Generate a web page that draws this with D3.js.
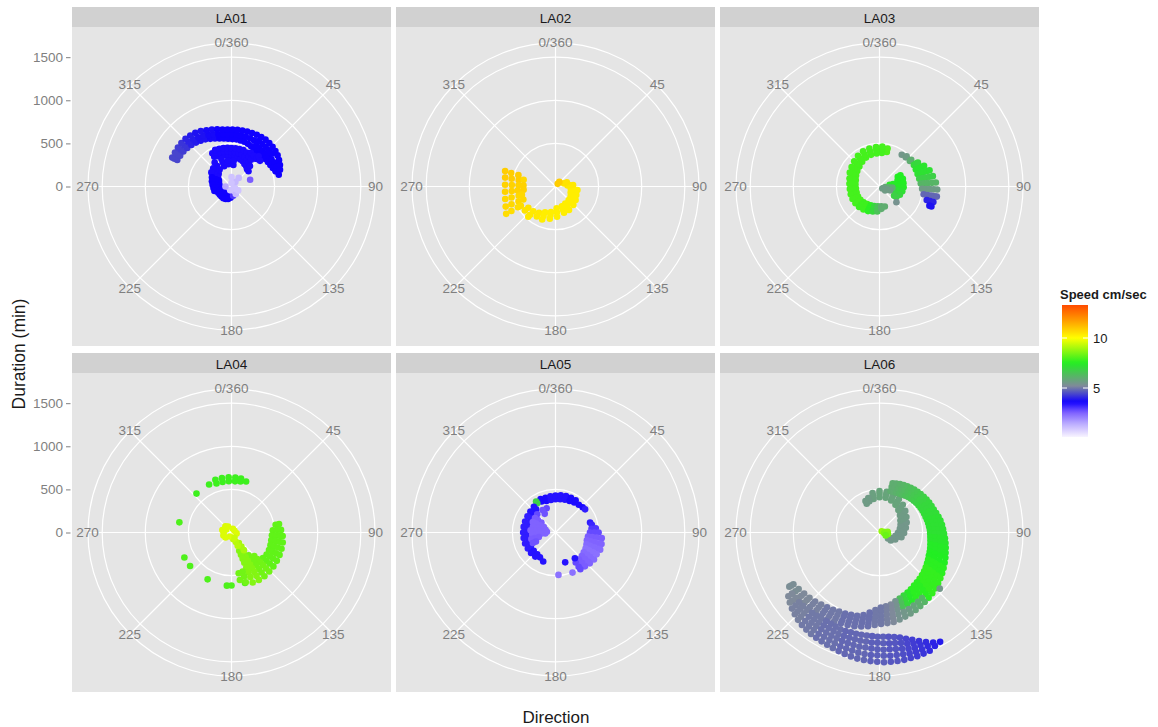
<!DOCTYPE html>
<html>
<head>
<meta charset="utf-8">
<title>Direction vs duration</title>
<script src="https://cdn.jsdelivr.net/npm/d3@7"></script>
<style>
  body { margin: 0; background: #fff; }
  text { font-family: "Liberation Sans", Arial, sans-serif; }
</style>
</head>
<body>
<svg id="chart"></svg>
<script>
const panelNames = ["LA01", "LA02", "LA03", "LA04", "LA05", "LA06"]
const thetaBreaks = [0, 45, 90, 135, 180, 225, 270, 315]
const thetaLabels = ["0/360", "45", "90", "135", "180", "225", "270", "315"]
const rBreaks = [0, 500, 1000, 1500]
const legendBreaks = [5, 10]
const speedStops = [0.1, 1.5, 2.6, 3.6, 5.2, 7.5, 10, 11.8, 13.3]
const speedColours = ["#f8f4ff", "#b8a8ff", "#7a5cff", "#1000ff", "#7f8a9a", "#22ee22", "#ffff00", "#ff9a00", "#ff4a00"]

// each entry: [direction, [durations...], speed]
const la01 = [
  [296, [700, 735, 765], 4.4], [301, [695, 730, 765], 4.4], [306, [690, 730, 768], 4.3],
  [311, [680, 725, 770], 4.2], [316, [670, 720, 768], 4.0], [321, [655, 705, 760], 3.9],
  [326, [640, 690, 750], 3.8], [331, [625, 675, 735], 3.8], [336, [605, 655, 715], 3.7],
  [341, [590, 640, 700], 3.7], [346, [575, 625, 685], 3.6], [351, [565, 615, 670], 3.6],
  [356, [555, 605, 662], 3.6], [1, [550, 605, 660], 3.6], [6, [550, 605, 660], 3.6],
  [11, [545, 600, 660], 3.6], [16, [540, 600, 662], 3.6], [21, [530, 600, 665], 3.6],
  [26, [520, 595, 668], 3.6], [31, [505, 560, 615, 670], 3.6], [36, [495, 550, 610, 672], 3.6],
  [41, [495, 550, 605, 668], 3.6], [46, [500, 550, 605, 662], 3.6], [51, [505, 555, 605, 655], 3.6],
  [56, [510, 560, 645], 3.6], [61, [515, 570, 630], 3.6], [66, [525, 575, 615], 3.6],
  [71, [540, 595], 3.6], [76, [565], 3.6],
  [330, [400, 445], 3.5], [336, [385, 430, 465], 3.5], [342, [375, 420, 460], 3.5],
  [348, [370, 415, 455], 3.5], [354, [360, 405, 450], 3.5], [0, [350, 400, 445], 3.5],
  [6, [345, 400, 445], 3.5], [12, [340, 395, 445], 3.5], [18, [330, 390, 445], 3.5],
  [24, [320, 375, 430], 3.5], [30, [300, 350, 400, 450], 3.5], [36, [290, 340, 385, 440], 3.5],
  [42, [270, 320, 430, 470], 3.5], [48, [265, 445], 3.5],
  [340, [250, 300, 340], 3.5], [352, [260, 305], 3.5], [5, [250, 300], 3.5],
  [325, [240, 290, 340], 3.5], [315, [210, 260, 300], 3.5], [305, [190, 240, 285], 3.5],
  [295, [160, 200, 250], 3.6], [285, [150, 195, 235], 3.6], [275, [140, 185, 220], 3.6],
  [265, [130, 180, 210], 3.6], [255, [120, 175, 205], 3.6], [245, [115, 170], 3.6],
  [235, [110, 165], 3.6], [225, [105, 165], 3.6], [215, [100, 165], 3.6],
  [205, [95, 160], 3.6], [195, [90, 150], 3.6], [185, [80, 130], 3.6],
  [170, [60, 110], 3.0], [150, [60, 100], 1.2], [120, [50, 90], 1.0], [90, [30], 1.0],
  [40, [70, 130], 1.2], [0, [40, 110], 1.0], [200, [45], 1.0], [270, [70], 1.5],
  [70, [230], 2.6]
]

const la02 = [
  [287, [450, 537, 611], 10.9], [280, [433, 516, 593], 10.9], [282, [378], 10.7],
  [272, [372, 429, 507, 585], 10.8], [264, [372, 440, 510, 588], 10.8],
  [256, [402, 440, 525, 601], 10.7], [248, [402, 463, 551, 623], 10.7],
  [241, [460, 498, 585, 654], 10.6],
  [232, [400, 450], 10.5], [222, [386, 440, 472], 10.4], [212, [360, 410], 10.4],
  [202, [323, 370, 413], 10.3], [190, [300, 337, 380], 10.3], [177, [254, 300, 351], 10.3],
  [162, [240, 285, 320], 10.3], [150, [227, 270, 314], 10.3], [136, [220, 260, 298], 10.3],
  [124, [211, 245, 281], 10.3], [112, [190, 230, 260], 10.3], [99, [180, 220, 257], 10.3],
  [85, [140, 175, 205], 10.4], [70, [105, 140], 10.5], [40, [40, 70], 10.9]
]

const la03 = [
  [12, [410, 450], 8.0], [4, [390, 430, 465], 7.9], [355, [385, 425, 460], 7.9],
  [345, [380, 420, 455], 7.9], [335, [370, 410, 450], 7.9], [325, [350, 395, 435], 7.9],
  [315, [330, 375, 415], 7.9], [305, [315, 355, 395], 7.9], [295, [300, 340, 380], 7.9],
  [285, [285, 320, 360], 7.9], [275, [280, 315, 350], 7.9], [265, [275, 310, 345], 7.9],
  [255, [275, 310, 345], 7.9], [245, [275, 310, 345], 7.9], [235, [270, 305, 340], 7.9],
  [225, [260, 300, 335], 7.8], [215, [250, 290, 325], 7.8], [205, [240, 280, 315], 7.6],
  [195, [235, 270, 300], 7.0], [185, [230, 260, 290], 6.5], [175, [230, 260], 6.0],
  [165, [240], 6.0],
  [62, [240, 275], 7.5], [72, [220, 255, 285], 7.5], [82, [215, 250, 280], 7.5],
  [92, [210, 245, 280], 7.4], [102, [200, 240, 270], 7.2], [112, [195, 230, 255], 7.0],
  [122, [200, 230], 6.8], [133, [268], 5.4], [80, [120, 160], 7.4],
  [95, [70, 110, 150], 6.0], [110, [50, 90, 130], 5.6], [125, [40, 80], 5.6],
  [35, [450], 5.5], [42, [455, 470], 5.6], [50, [460, 480], 6.0],
  [58, [470, 500, 525], 7.0], [65, [465, 500, 540, 570], 7.3],
  [72, [465, 500, 540, 580, 610], 7.2], [79, [470, 510, 550, 590, 630], 6.8],
  [86, [480, 520, 560, 610, 655], 6.2], [93, [495, 540, 585, 630, 670], 5.6],
  [100, [520, 565, 610, 650, 675], 4.8], [106, [570, 610, 650], 4.0], [111, [620, 645], 3.8]
]

const la04 = [
  [343, [595, 640], 7.8], [350, [595, 640], 7.8], [357, [595, 640], 7.8],
  [4, [595, 640], 7.8], [10, [600, 635], 7.8], [16, [615], 7.8],
  [335, [615], 7.8], [318, [607], 7.8],
  [281, [616], 8.0], [242, [619], 8.0], [231, [618], 8.0], [207, [610], 8.0],
  [185, [619], 8.0], [180, [615], 8.0], [165, [605], 8.0],
  [80, [520, 560], 8.2], [87, [480, 530, 575], 8.2], [94, [470, 520, 565, 595], 8.2],
  [101, [470, 520, 565, 605], 8.2], [108, [475, 520, 565, 610], 8.2],
  [115, [480, 525, 570, 615], 8.2], [122, [480, 525, 570, 620], 8.2],
  [129, [470, 520, 570, 625], 8.2], [136, [380, 430, 480, 530, 580, 630], 8.4],
  [143, [330, 380, 430, 480, 530, 580, 635], 8.4],
  [150, [280, 330, 380, 430, 480, 530, 580, 635], 8.6],
  [157, [230, 280, 330, 380, 440, 500, 560, 630], 8.6],
  [164, [470, 530, 600], 8.4], [170, [480, 560], 8.4],
  [145, [150, 200, 250], 9.0], [155, [120, 170], 9.2], [165, [80], 9.3],
  [300, [70], 9.6], [330, [80], 9.6], [20, [45], 9.6], [60, [40], 9.6],
  [200, [50], 9.6], [250, [100], 9.6], [270, [90], 9.6], [230, [90], 9.6],
  [100, [60], 9.6], [150, [70], 9.4], [285, [110], 9.6], [315, [100], 9.6]
]

const la05 = [
  [336, [395, 425], 3.5], [344, [380, 420], 3.5], [352, [380, 425], 3.4],
  [0, [385, 430], 3.4], [8, [390, 435], 3.4], [16, [395, 440], 3.4],
  [24, [400, 440], 3.5], [32, [410, 440], 3.5], [40, [420], 3.5], [47, [430], 3.5],
  [52, [436], 3.3], [328, [400, 425], 6.8],
  [74, [417], 3.3], [78, [431], 3.2], [84, [420, 470], 3.0],
  [90, [400, 450, 500], 2.8], [97, [380, 430, 480, 540], 2.6],
  [104, [375, 420, 470, 520, 550], 2.5], [111, [385, 430, 480, 530, 555], 2.4],
  [118, [395, 440, 490, 540], 2.3], [125, [400, 450, 500, 545], 2.4],
  [132, [410, 460, 510, 535], 2.5], [139, [415, 470, 520], 2.6], [146, [420, 480, 515], 2.8],
  [162, [364], 3.4], [143, [373], 3.4], [176, [493], 2.3], [157, [505], 2.3], [203, [365], 3.4],
  [320, [350, 390], 3.4], [310, [340, 380], 3.4], [300, [330, 375], 3.3],
  [290, [330, 375], 3.3], [280, [330, 375], 3.3], [270, [330, 375], 3.3],
  [260, [330, 375], 3.3], [250, [330, 375], 3.3], [240, [330, 370], 3.3],
  [230, [330, 370], 3.4], [220, [330, 365], 3.4], [212, [340], 3.4],
  [340, [300], 2.8], [330, [250, 300], 2.7], [315, [300], 2.8],
  [305, [200, 250, 290], 2.6], [295, [150, 200, 250, 290], 2.5],
  [285, [120, 170, 220, 270], 2.5], [275, [100, 150, 200, 250, 290], 2.5],
  [265, [120, 170, 220, 270], 2.5], [255, [200, 250, 290], 2.6], [245, [250, 290], 2.7]
]

const la06 = [
  // inner curl
  [125, [120, 160], 5.5], [114, [160, 200], 5.5], [102, [190, 230, 260], 5.5],
  [91, [215, 250, 285], 5.5], [80, [240, 275, 310], 5.5], [70, [260, 300, 335], 5.5],
  [60, [280, 320, 360], 5.6], [50, [310, 350, 390], 5.6], [40, [340, 380, 420], 5.7],
  [30, [370, 410, 450], 5.8], [20, [395, 435, 470], 5.8], [10, [410, 450, 480], 5.8],
  [0, [410, 450, 480], 5.8], [350, [395, 435, 465], 5.7], [342, [380, 420], 5.6],
  [336, [365, 400], 5.6],
  [60, [30], 8.8], [85, [60, 95], 8.6], [100, [55, 100], 8.5], [115, [80], 8.3],
  // green band
  [15, [495, 545, 590], 6.0], [19, [497, 550, 600], 6.0], [23, [500, 555, 610], 6.1],
  [27, [505, 560, 618], 6.2], [31, [512, 568, 625], 6.3], [35, [520, 576, 632], 6.4],
  [39, [528, 584, 640], 6.5], [43, [536, 591, 646], 6.6], [47, [542, 597, 652], 6.7],
  [51, [547, 603, 660], 6.8], [55, [552, 609, 666], 6.9], [59, [556, 614, 672], 7.0],
  [63, [559, 618, 677], 7.0], [67, [562, 622, 683], 7.1], [71, [565, 630, 695], 7.1],
  [75, [570, 615, 660, 708], 7.2], [79, [575, 623, 671, 720], 7.2],
  [83, [580, 630, 680, 730], 7.2], [87, [585, 636, 687, 738], 7.2],
  [91, [588, 641, 694, 748], 7.2], [95, [592, 649, 705, 762], 7.3],
  [99, [598, 657, 716, 775], 7.3], [103, [606, 667, 727, 788], 7.4],
  [107, [615, 677, 739, 801], 7.4], [111, [624, 689, 753, 818], 7.5],
  [115, [632, 699, 766, 833], 7.5], [119, [645, 696, 747, 799, 850], 7.6],
  [123, [658, 710, 762, 814, 866], 7.6], [127, [672, 725, 777, 830, 883], 7.7],
  [131, [686, 740, 793, 847, 900], 7.7], [135, [698, 753, 807, 862, 916], 7.7],
  [139, [710, 765, 821, 876, 932], 7.7], [143, [722, 778, 834, 891, 947], 7.6],
  [147, [735, 792, 848], 7.6], [147, [905, 962], 6.2],
  [151, [752, 808, 864], 7.6], [151, [920, 976], 6.0],
  [155, [770, 825, 880], 7.4], [155, [936, 991], 5.8],
  [159, [783, 838, 894], 7.0], [159, [950, 1005], 5.6],
  [163, [800, 855, 910], 6.4], [163, [965, 1020], 5.5],
  [133, [955], 5.5],
  // spiral continuation
  [167, [820, 870, 920, 975, 1035], 5.4], [171, [845, 895, 950, 1000, 1050], 5.2],
  [175, [858, 910, 960, 1010, 1055], 5.1], [179, [870, 920, 970, 1015, 1060], 5.0],
  [183, [900, 945, 990, 1035, 1075], 5.0], [187, [935, 975, 1015, 1055, 1095], 4.9],
  [191, [975, 1020, 1065, 1110], 4.9], [195, [1000, 1040, 1085, 1125], 4.9],
  [199, [1010, 1050, 1095, 1135], 4.9], [203, [1020, 1060, 1105, 1145], 4.9],
  [207, [1030, 1075, 1120, 1160], 5.0], [211, [1045, 1090, 1130, 1175], 5.0],
  [215, [1060, 1105, 1145, 1190], 5.0], [219, [1075, 1120, 1160, 1205], 5.1],
  [223, [1095, 1135, 1180, 1220], 5.1], [227, [1110, 1150, 1190, 1230], 5.2],
  [231, [1125, 1165, 1200, 1235], 5.2], [235, [1145, 1190, 1235], 5.3],
  [239, [1165, 1195, 1220], 5.3],
  // lower band
  [235, [1240, 1290], 5.2], [232, [1235, 1285, 1320], 5.2], [229, [1235, 1290, 1345], 5.1],
  [226, [1230, 1275, 1320, 1365], 5.1], [223, [1225, 1280, 1335, 1385], 5.1],
  [220, [1215, 1275, 1340, 1400], 5.0], [217, [1210, 1260, 1310, 1360, 1410], 5.0],
  [214, [1205, 1260, 1310, 1365, 1420], 5.0], [211, [1200, 1255, 1310, 1370, 1425], 4.9],
  [208, [1200, 1255, 1315, 1370, 1430], 4.9], [205, [1205, 1260, 1320, 1375, 1435], 4.9],
  [202, [1210, 1270, 1325, 1385, 1445], 4.9], [199, [1210, 1270, 1330, 1395, 1455], 4.8],
  [196, [1205, 1270, 1335, 1400, 1465], 4.8], [193, [1205, 1270, 1340, 1405, 1475], 4.8],
  [190, [1205, 1275, 1345, 1415, 1485], 4.8], [187, [1205, 1275, 1345, 1420, 1490], 4.8],
  [184, [1205, 1280, 1350, 1425, 1495], 4.7], [181, [1210, 1280, 1355, 1425, 1500], 4.7],
  [178, [1210, 1285, 1360, 1430, 1505], 4.7], [175, [1215, 1290, 1360, 1435, 1505], 4.6],
  [172, [1225, 1295, 1365, 1435, 1505], 4.6], [169, [1240, 1305, 1375, 1440, 1505], 4.5],
  [166, [1270, 1330, 1390, 1445, 1500], 4.4], [163, [1300, 1350, 1400, 1450, 1500], 4.3],
  [160, [1340, 1390, 1445, 1495], 4.2], [157, [1380, 1430, 1490], 4.1],
  [154, [1420, 1465], 4.0], [151, [1450], 3.9]
]

const panelData = [la01, la02, la03, la04, la05, la06]

const W = 1158, H = 727
const size = 319, gap = 5, leftX = 72, topY = 7, stripH = 20, rowStep = 346

const svg = d3.select("#chart").attr("width", W).attr("height", H)

const rScale = d3.scaleLinear().domain([0, 1480]).range([0, size * 0.4])
const aScale = d3.scaleLinear().domain([0, 360]).range([0, 2 * Math.PI])
const colour = d3.scaleLinear().domain(speedStops).range(speedColours).clamp(true)
const outerR = size * 0.45

function toXY(dir, dur) {
  const a = aScale(dir), r = rScale(dur)
  return [r * Math.sin(a), -r * Math.cos(a)]
}

panelNames.forEach((name, i) => {
  const col = i % 3, row = Math.floor(i / 3)
  const x0 = leftX + col * (size + gap)
  const y0 = topY + row * rowStep
  const cx = x0 + size / 2, cy = y0 + stripH + size / 2

  const g = svg.append("g")

  g.append("rect")
    .attr("x", x0).attr("y", y0).attr("width", size).attr("height", stripH)
    .attr("fill", "#d1d1d1")
  g.append("text")
    .attr("x", cx).attr("y", y0 + stripH / 2 + 1)
    .attr("text-anchor", "middle").attr("dominant-baseline", "central")
    .style("font-size", "13.5px").attr("fill", "#1a1a1a")
    .text(name)

  g.append("rect")
    .attr("x", x0).attr("y", y0 + stripH).attr("width", size).attr("height", size)
    .attr("fill", "#e5e5e5")

  const p = g.append("g").attr("transform", `translate(${cx},${cy})`)

  p.selectAll("circle.grid")
    .data(rBreaks.filter(d => d > 0).map(d => rScale(d)).concat([outerR]))
    .enter().append("circle")
    .attr("class", "grid")
    .attr("r", d => d)
    .attr("fill", "none").attr("stroke", "#fff").attr("stroke-width", 1.2)

  p.selectAll("line.spoke")
    .data(thetaBreaks)
    .enter().append("line")
    .attr("class", "spoke")
    .attr("x1", 0).attr("y1", 0)
    .attr("x2", d => outerR * Math.sin(aScale(d)))
    .attr("y2", d => -outerR * Math.cos(aScale(d)))
    .attr("stroke", "#fff").attr("stroke-width", 1.2)

  const pts = []
  panelData[i].forEach(s => s[1].forEach(dur => pts.push({ dir: s[0], dur: dur, speed: s[2] })))

  p.selectAll("circle.pt")
    .data(pts)
    .enter().append("circle")
    .attr("class", "pt")
    .attr("cx", d => toXY(d.dir, d.dur)[0])
    .attr("cy", d => toXY(d.dir, d.dur)[1])
    .attr("r", 3.3)
    .attr("fill", d => colour(d.speed))

  p.selectAll("text.theta")
    .data(thetaBreaks)
    .enter().append("text")
    .attr("class", "theta")
    .attr("x", d => 144 * Math.sin(aScale(d)))
    .attr("y", d => -144 * Math.cos(aScale(d)))
    .attr("text-anchor", "middle").attr("dominant-baseline", "central")
    .style("font-size", "13.5px").attr("fill", "#7f7f7f")
    .text((d, k) => thetaLabels[k])

  if (col === 0) {
    const yScale = d3.scaleLinear().domain([0, 1480]).range([cy, cy - rScale(1480)])
    const ax = svg.append("g")
      .attr("transform", `translate(${x0 - 1.5},0)`)
      .call(d3.axisLeft(yScale).tickValues(rBreaks).tickFormat(d3.format("d"))
        .tickSize(4.5).tickPadding(3))
    ax.select(".domain").remove()
    ax.selectAll("line").attr("stroke", "#7f7f7f")
    ax.selectAll("text").attr("fill", "#7f7f7f")
      .style("font-size", "13.5px").style("font-family", "Liberation Sans, Arial, sans-serif")
  }
})

// axis titles
svg.append("text")
  .attr("transform", "translate(25,354) rotate(-90)")
  .attr("text-anchor", "middle")
  .style("font-size", "17.5px").attr("fill", "#1a1a1a")
  .text("Duration (min)")

svg.append("text")
  .attr("x", 556).attr("y", 723)
  .attr("text-anchor", "middle")
  .style("font-size", "17px").attr("fill", "#1a1a1a")
  .text("Direction")

// legend
const legScale = d3.scaleLinear().domain([0.1, 13.3]).range([437, 305])
const defs = svg.append("defs")
const grad = defs.append("linearGradient").attr("id", "speedGrad")
  .attr("x1", 0).attr("y1", 1).attr("x2", 0).attr("y2", 0)
d3.range(0.1, 13.31, 0.3).forEach(v => {
  grad.append("stop")
    .attr("offset", (v - 0.1) / 13.2)
    .attr("stop-color", colour(v))
})

svg.append("text")
  .attr("x", 1060).attr("y", 299)
  .style("font-size", "13px").style("font-weight", "bold").attr("fill", "#1a1a1a")
  .text("Speed cm/sec")

svg.append("rect")
  .attr("x", 1062).attr("y", 305).attr("width", 26).attr("height", 132)
  .attr("fill", "url(#speedGrad)")

legendBreaks.forEach(v => {
  svg.append("line").attr("x1", 1062).attr("x2", 1067)
    .attr("y1", legScale(v)).attr("y2", legScale(v))
    .attr("stroke", "#fff").attr("stroke-width", 1)
  svg.append("line").attr("x1", 1083).attr("x2", 1088)
    .attr("y1", legScale(v)).attr("y2", legScale(v))
    .attr("stroke", "#fff").attr("stroke-width", 1)
})

const legAxis = svg.append("g")
  .attr("transform", "translate(1088,0)")
  .call(d3.axisRight(legScale).tickValues(legendBreaks).tickSize(0).tickPadding(5))
legAxis.select(".domain").remove()
legAxis.selectAll("text").attr("fill", "#1a1a1a")
  .style("font-size", "13px").style("font-family", "Liberation Sans, Arial, sans-serif")
</script>
</body>
</html>
